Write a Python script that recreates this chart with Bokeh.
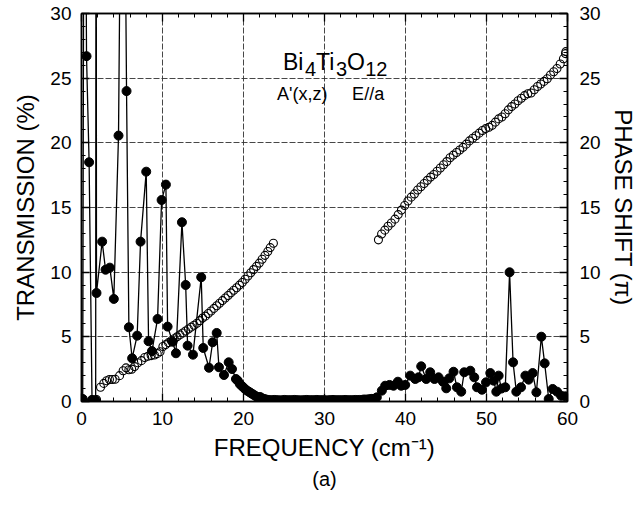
from bokeh.plotting import figure
from bokeh.models import Range1d, LinearAxis, SingleIntervalTicker, Label, Title, ColumnDataSource
from bokeh.embed import file_html
from bokeh.resources import INLINE

FONT = "Liberation Sans"

# ---------------- data ----------------
# Transmission (%) vs frequency (cm-1); values > 30 run off the top of the chart
trans_freq = [0.15, 0.35, 0.62, 0.94, 1.3, 1.75, 1.8, 1.85, 2.55, 2.97, 3.5, 3.99, 4.57, 5.1,
              5.56, 5.85, 6.25, 6.87, 7.29, 7.99, 8.28, 8.7, 9.39, 9.89, 10.42, 10.63, 11.25,
              11.66, 12.4, 12.86, 13.1, 13.76, 14.78, 15.03, 15.74, 16.19, 16.69, 16.97, 17.59,
              18.17, 18.58, 19.07, 19.3, 19.55, 19.8, 20.05, 20.3, 20.55, 20.8, 21.05, 21.3,
              21.55, 21.8, 22.05, 22.3, 22.55, 22.8,
              23.05, 23.3, 23.55, 23.8, 24.05, 24.3, 24.55, 24.8, 25.05, 25.3, 25.55, 25.8,
              26.05, 26.3, 26.55, 26.8, 27.05, 27.3, 27.55, 27.8, 28.05, 28.3, 28.55, 28.8,
              29.05, 29.3, 29.55, 29.8, 30.05, 30.3, 30.55, 30.8, 31.05, 31.3, 31.55, 31.8,
              32.05, 32.3, 32.55, 32.8, 33.05, 33.3, 33.55, 33.8, 34.05, 34.3, 34.55, 34.8,
              35.05, 35.3, 35.55, 35.8,
              36.04, 36.46, 37.08, 37.49, 38.02, 38.52, 39.06, 39.47, 39.96, 40.58, 41.2, 41.6,
              41.94, 42.56, 43.05, 43.58, 44.08, 44.62, 45.03, 45.4, 45.93, 46.35, 46.88, 47.25,
              48.0, 48.49, 48.83, 49.44, 49.94, 50.47, 50.88, 51.21, 51.5, 51.83, 52.32, 52.85,
              53.28, 53.68, 54.26, 54.8, 55.2, 55.7, 56.16, 56.77, 57.18, 57.68, 58.17, 58.71,
              59.21, 59.74]
trans_pct = [0.2, 60, 26.7, 18.5, 0.1, 0.1, 60, 8.39, 12.36, 10.19, 10.35, 7.93, 20.56, 60,
             24.0, 5.74, 3.34, 5.09, 12.36, 17.77, 4.66, 3.9, 6.38, 15.58, 16.77, 5.79, 4.62,
             3.73, 13.86, 9.01, 4.32, 3.62, 9.61, 4.14, 2.61, 4.58, 5.3, 2.65, 2.05,
             3.03, 2.51, 1.74, 1.6, 1.35, 1.2, 1.05, 0.9, 0.8, 0.7, 0.6, 0.5,
             0.4, 0.3, 0.35, 0.25, 0.2, 0.15,
             0.12, 0.1, 0.1, 0.12, 0.1, 0.1, 0.08, 0.1, 0.12, 0.1, 0.1, 0.1,
             0.1, 0.12, 0.1, 0.1, 0.08, 0.1, 0.1, 0.12, 0.1, 0.1, 0.1, 0.1,
             0.12, 0.1, 0.1, 0.1, 0.1, 0.08, 0.1, 0.1, 0.12, 0.1, 0.1, 0.1,
             0.1, 0.1, 0.12, 0.1, 0.1, 0.1, 0.1, 0.12, 0.1, 0.12, 0.1, 0.15,
             0.15, 0.15, 0.18, 0.2,
             0.2, 0.32, 0.84, 1.22, 1.28, 1.22, 1.53, 1.22, 1.28, 2.0, 1.74, 1.87,
             2.72, 1.74, 2.26, 1.74, 1.87, 1.53, 1.02, 1.79, 2.3, 1.1, 0.76, 2.26,
             2.38, 1.87, 1.1, 0.91, 1.48, 2.2, 1.61, 0.76, 2.0, 1.0, 1.1, 9.99,
             3.03, 0.76, 1.1, 2.0, 1.69, 2.2, 0.71, 5.01, 2.95, 0.19, 0.97, 0.76,
             0.45, 0.4]

# Phase shift (units of pi) vs frequency (cm-1)
phase_freq = [0.0, 1.3, 1.85, 2.35, 2.75, 3.1, 3.45, 3.8, 4.15, 4.7, 5.14, 5.5, 5.85, 6.2,
              6.55, 6.95, 7.4, 7.8, 8.2, 8.6, 9.0, 9.35, 9.7, 10.05, 10.4, 10.75, 11.1, 11.45,
              11.8, 12.15, 12.5, 12.85, 13.2, 13.55, 13.9, 14.25, 14.6, 14.95, 15.3, 15.65,
              16.0, 16.35, 16.7, 17.05, 17.4, 17.75, 18.1, 18.45, 18.8, 19.15, 19.5, 19.85,
              20.2, 20.55, 20.9, 21.25, 21.6, 21.95, 22.3, 22.65, 23.0, 23.3, 23.69,
              36.66, 37.05, 37.45, 37.85, 38.25, 38.7, 39.1, 39.5, 39.9, 40.3, 40.7, 41.1,
              41.5, 41.9, 42.3, 42.7, 43.1, 43.5, 43.9, 44.3, 44.7, 45.1, 45.5, 45.9, 46.3,
              46.7, 47.1, 47.5, 47.9, 48.3, 48.7, 49.1, 49.5, 49.9, 50.3, 50.7, 51.1, 51.5,
              51.9, 52.3, 52.7, 53.1, 53.5, 53.9, 54.3, 54.7, 55.1, 55.5, 55.9, 56.3, 56.7,
              57.1, 57.5, 57.9, 58.3, 58.7, 59.1, 59.5, 59.75, 59.8]
phase_pi = [0.0, 0.15, 0.15, 1.1, 1.4, 1.6, 1.7, 1.7, 1.72, 2.0, 2.38, 2.6, 2.45, 2.5,
            2.7, 3.0, 3.16, 3.4, 3.5, 3.55, 3.6, 3.7, 3.85, 4.25, 4.4, 4.55, 4.7, 4.85,
            5.0, 5.15, 5.3, 5.45, 5.6, 5.75, 5.9, 6.05, 6.25, 6.45, 6.6, 6.8,
            7.0, 7.2, 7.4, 7.6, 7.8, 8.0, 8.2, 8.4, 8.6, 8.8, 9.0, 9.2,
            9.45, 9.7, 9.95, 10.2, 10.45, 10.7, 11.0, 11.3, 11.6, 11.9, 12.24,
            12.5, 12.95, 13.25, 13.55, 13.8, 14.1, 14.45, 14.8, 15.15, 15.5, 15.8, 16.05,
            16.35, 16.6, 16.85, 17.1, 17.35, 17.55, 17.8, 18.05, 18.3, 18.55, 18.85, 19.05, 19.25,
            19.45, 19.65, 19.9, 20.15, 20.35, 20.55, 20.75, 20.95, 21.1, 21.2, 21.35, 21.6, 21.85,
            22.0, 22.25, 22.55, 22.8, 23.0, 23.25, 23.45, 23.65, 23.8, 23.85, 24.1, 24.35, 24.55,
            24.75, 24.95, 25.25, 25.5, 25.75, 26.1, 26.5, 26.9, 27.05]

x_ticks_interval = 10
y_ticks_interval = 5

# annotation text
formula_parts = ["Bi", "4", "Ti", "3", "O", "12"]
formula_x = [24.88, 27.6, 28.96, 31.43, 32.79, 35.02]
formula_y = [26.23, 25.72, 26.23, 25.72, 26.23, 25.72]
formula_size = ["23px", "20px", "23px", "20px", "23px", "20px"]
mode_texts = ["A'(x,z)", "E//a"]
mode_x = [24.15, 33.41]
mode_y = [23.78, 23.78]

# ---------------- figure ----------------
p = figure(frame_width=486, frame_height=388,
           x_range=Range1d(0, 60), y_range=Range1d(0, 30),
           output_backend="svg", toolbar_location=None,
           min_border_left=81, min_border_right=70, min_border_top=13, min_border_bottom=100,
           background_fill_color="white", border_fill_color="white")
p.extra_y_ranges = {"phase": Range1d(0, 30)}

p.outline_line_color = "black"
p.outline_line_width = 1.5

bottom_axis = p.below[0]
left_axis = p.left[0]
bottom_axis.ticker = SingleIntervalTicker(interval=x_ticks_interval, num_minor_ticks=5)
left_axis.ticker = SingleIntervalTicker(interval=y_ticks_interval, num_minor_ticks=5)

right_axis = LinearAxis(y_range_name="phase",
                        ticker=SingleIntervalTicker(interval=y_ticks_interval, num_minor_ticks=5))
p.add_layout(right_axis, "right")
top_axis = LinearAxis(ticker=SingleIntervalTicker(interval=x_ticks_interval, num_minor_ticks=5))
p.add_layout(top_axis, "above")

bottom_axis.axis_label = "FREQUENCY (cm\u207b\u00b9)"
left_axis.axis_label = "TRANSMISSION (%)"
right_axis.axis_label = "PHASE SHIFT (\u03c0)"

for ax in [bottom_axis, left_axis, right_axis, top_axis]:
    ax.axis_line_color = "black"
    ax.axis_line_width = 1.5
    ax.major_tick_in = 8
    ax.major_tick_out = 0
    ax.minor_tick_in = 4
    ax.minor_tick_out = 0
    ax.major_tick_line_color = "black"
    ax.minor_tick_line_color = "black"
    ax.major_tick_line_width = 1.3
    ax.minor_tick_line_width = 1
    ax.major_label_text_font = FONT
    ax.major_label_text_font_size = "19px"
    ax.major_label_text_color = "black"
    ax.axis_label_text_font = FONT
    ax.axis_label_text_font_size = "24px"
    ax.axis_label_text_font_style = "normal"
    ax.axis_label_text_color = "black"

top_axis.major_label_text_alpha = 0
top_axis.major_label_text_font_size = "1px"
top_axis.major_label_standoff = 0
top_axis.axis_label = None

bottom_axis.major_label_standoff = 10
bottom_axis.axis_label_standoff = 6
left_axis.major_label_standoff = 10
left_axis.axis_label_standoff = 8
right_axis.major_label_standoff = 12
right_axis.axis_label_standoff = 6

for g in [p.xgrid[0], p.ygrid[0]]:
    g.grid_line_color = "#333333"
    g.grid_line_width = 1
    g.grid_line_dash = "6 2"
    g.grid_line_alpha = 0.9

# phase (open circles)
phase_src = ColumnDataSource(dict(f=phase_freq, ph=phase_pi))
p.scatter("f", "ph", source=phase_src, y_range_name="phase", marker="circle", size=8,
          fill_color=None, line_color="black", line_width=1.1)

# transmission (filled circles joined by lines)
trans_src = ColumnDataSource(dict(f=trans_freq, t=trans_pct))
p.line("f", "t", source=trans_src, line_color="black", line_width=1.3)
p.scatter("f", "t", source=trans_src, marker="circle", size=9,
          fill_color="black", line_color="black")

for txt, x, y, s in zip(formula_parts, formula_x, formula_y, formula_size):
    p.add_layout(Label(x=x, y=y, text=txt, text_font=FONT, text_font_size=s,
                       text_baseline="alphabetic", text_color="black"))
for txt, x, y in zip(mode_texts, mode_x, mode_y):
    p.add_layout(Label(x=x, y=y, text=txt, text_font=FONT, text_font_size="18px",
                       text_baseline="alphabetic", text_color="black"))

p.add_layout(Title(text="(a)", align="center", text_font=FONT, text_font_size="20px",
                   text_font_style="normal", text_color="black", standoff=4), "below")

open("out.html", "w").write(file_html(p, INLINE))
